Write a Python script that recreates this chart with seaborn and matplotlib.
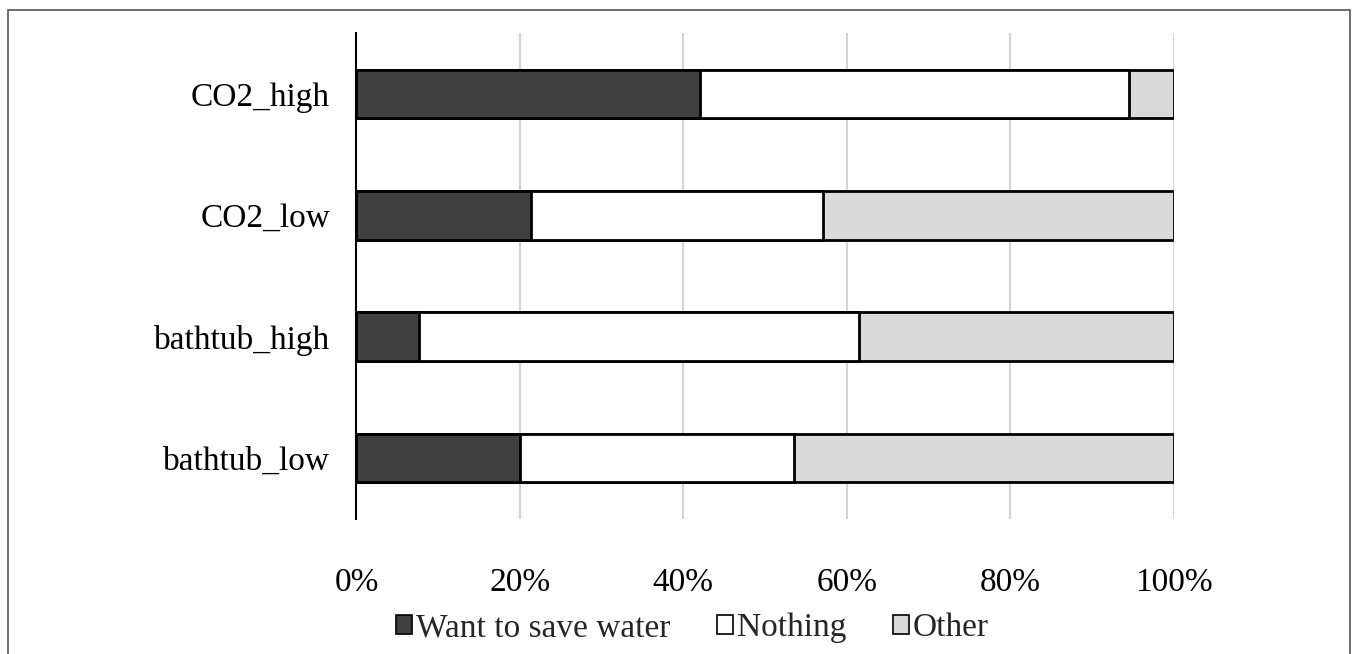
import numpy as np
import pandas as pd
import seaborn as sns
import matplotlib.pyplot as plt
from matplotlib.patches import Rectangle, Patch

# values (percent of respondents)
groups = ['CO2_high', 'CO2_low', 'bathtub_high', 'bathtub_low']
want_save = [42.0, 21.4, 7.6, 20.0]
nothing = [52.6, 35.7, 53.9, 33.5]
other = [5.4, 42.9, 38.5, 46.5]
series = ['Want to save water', 'Nothing', 'Other']
colors = ['#404040', '#ffffff', '#d9d9d9']
xticks = [0, 20, 40, 60, 80, 100]

sns.set_style('white')
plt.rcParams['font.family'] = ['Liberation Serif', 'DejaVu Serif']

df = pd.DataFrame({'group': groups, 'want': want_save,
                   'nothing': nothing, 'other': other})
df['c1'] = df['want']
df['c2'] = df['want'] + df['nothing']
df['c3'] = df['c2'] + df['other']

fig = plt.figure(figsize=(13.57, 6.54), dpi=100)
ax = fig.add_axes([0.2627, 0.2068, 0.6021, 0.7424])

# stacked bars: draw the cumulative totals back to front
for col, c in zip(['c3', 'c2', 'c1'], colors[::-1]):
    sns.barplot(data=df, x=col, y='group', order=groups, color=c,
                edgecolor='black', linewidth=2, width=0.4, ax=ax,
                saturation=1, zorder=3)

ax.set_xlim(0, 100)
ax.set_ylim(3.5, -0.5)
ax.set_xticks(xticks)
ax.set_xticklabels([f'{v}%' for v in xticks])
ax.set_xlabel('')
ax.set_ylabel('')
ax.grid(axis='x', color='#d4d4d4', linewidth=1.5, zorder=0)
ax.set_axisbelow(True)
for s in ['top', 'right', 'bottom']:
    ax.spines[s].set_visible(False)
ax.spines['left'].set_color('black')
ax.spines['left'].set_linewidth(1.5)
ax.spines['left'].set_zorder(5)
ax.tick_params(axis='both', length=0, labelsize=24, colors='black')
ax.tick_params(axis='y', pad=19)
ax.tick_params(axis='x', pad=35)

handles = [Patch(facecolor=c, edgecolor='black', linewidth=1.2) for c in colors]
fig.legend(handles, series, loc='center', bbox_to_anchor=(0.51, 1 - 628 / 654),
           ncol=3, frameon=False, fontsize=24, handlelength=0.5,
           handleheight=0.5, handletextpad=0.1, columnspacing=1.4)

# outer frame around the figure
fig.patches.append(Rectangle((8 / 1357, -0.01), 1342 / 1357, 1 - 10 / 654 + 0.01,
                             transform=fig.transFigure, fill=False,
                             edgecolor='#555555', linewidth=1.2))

fig.savefig('out.png', dpi=100)
